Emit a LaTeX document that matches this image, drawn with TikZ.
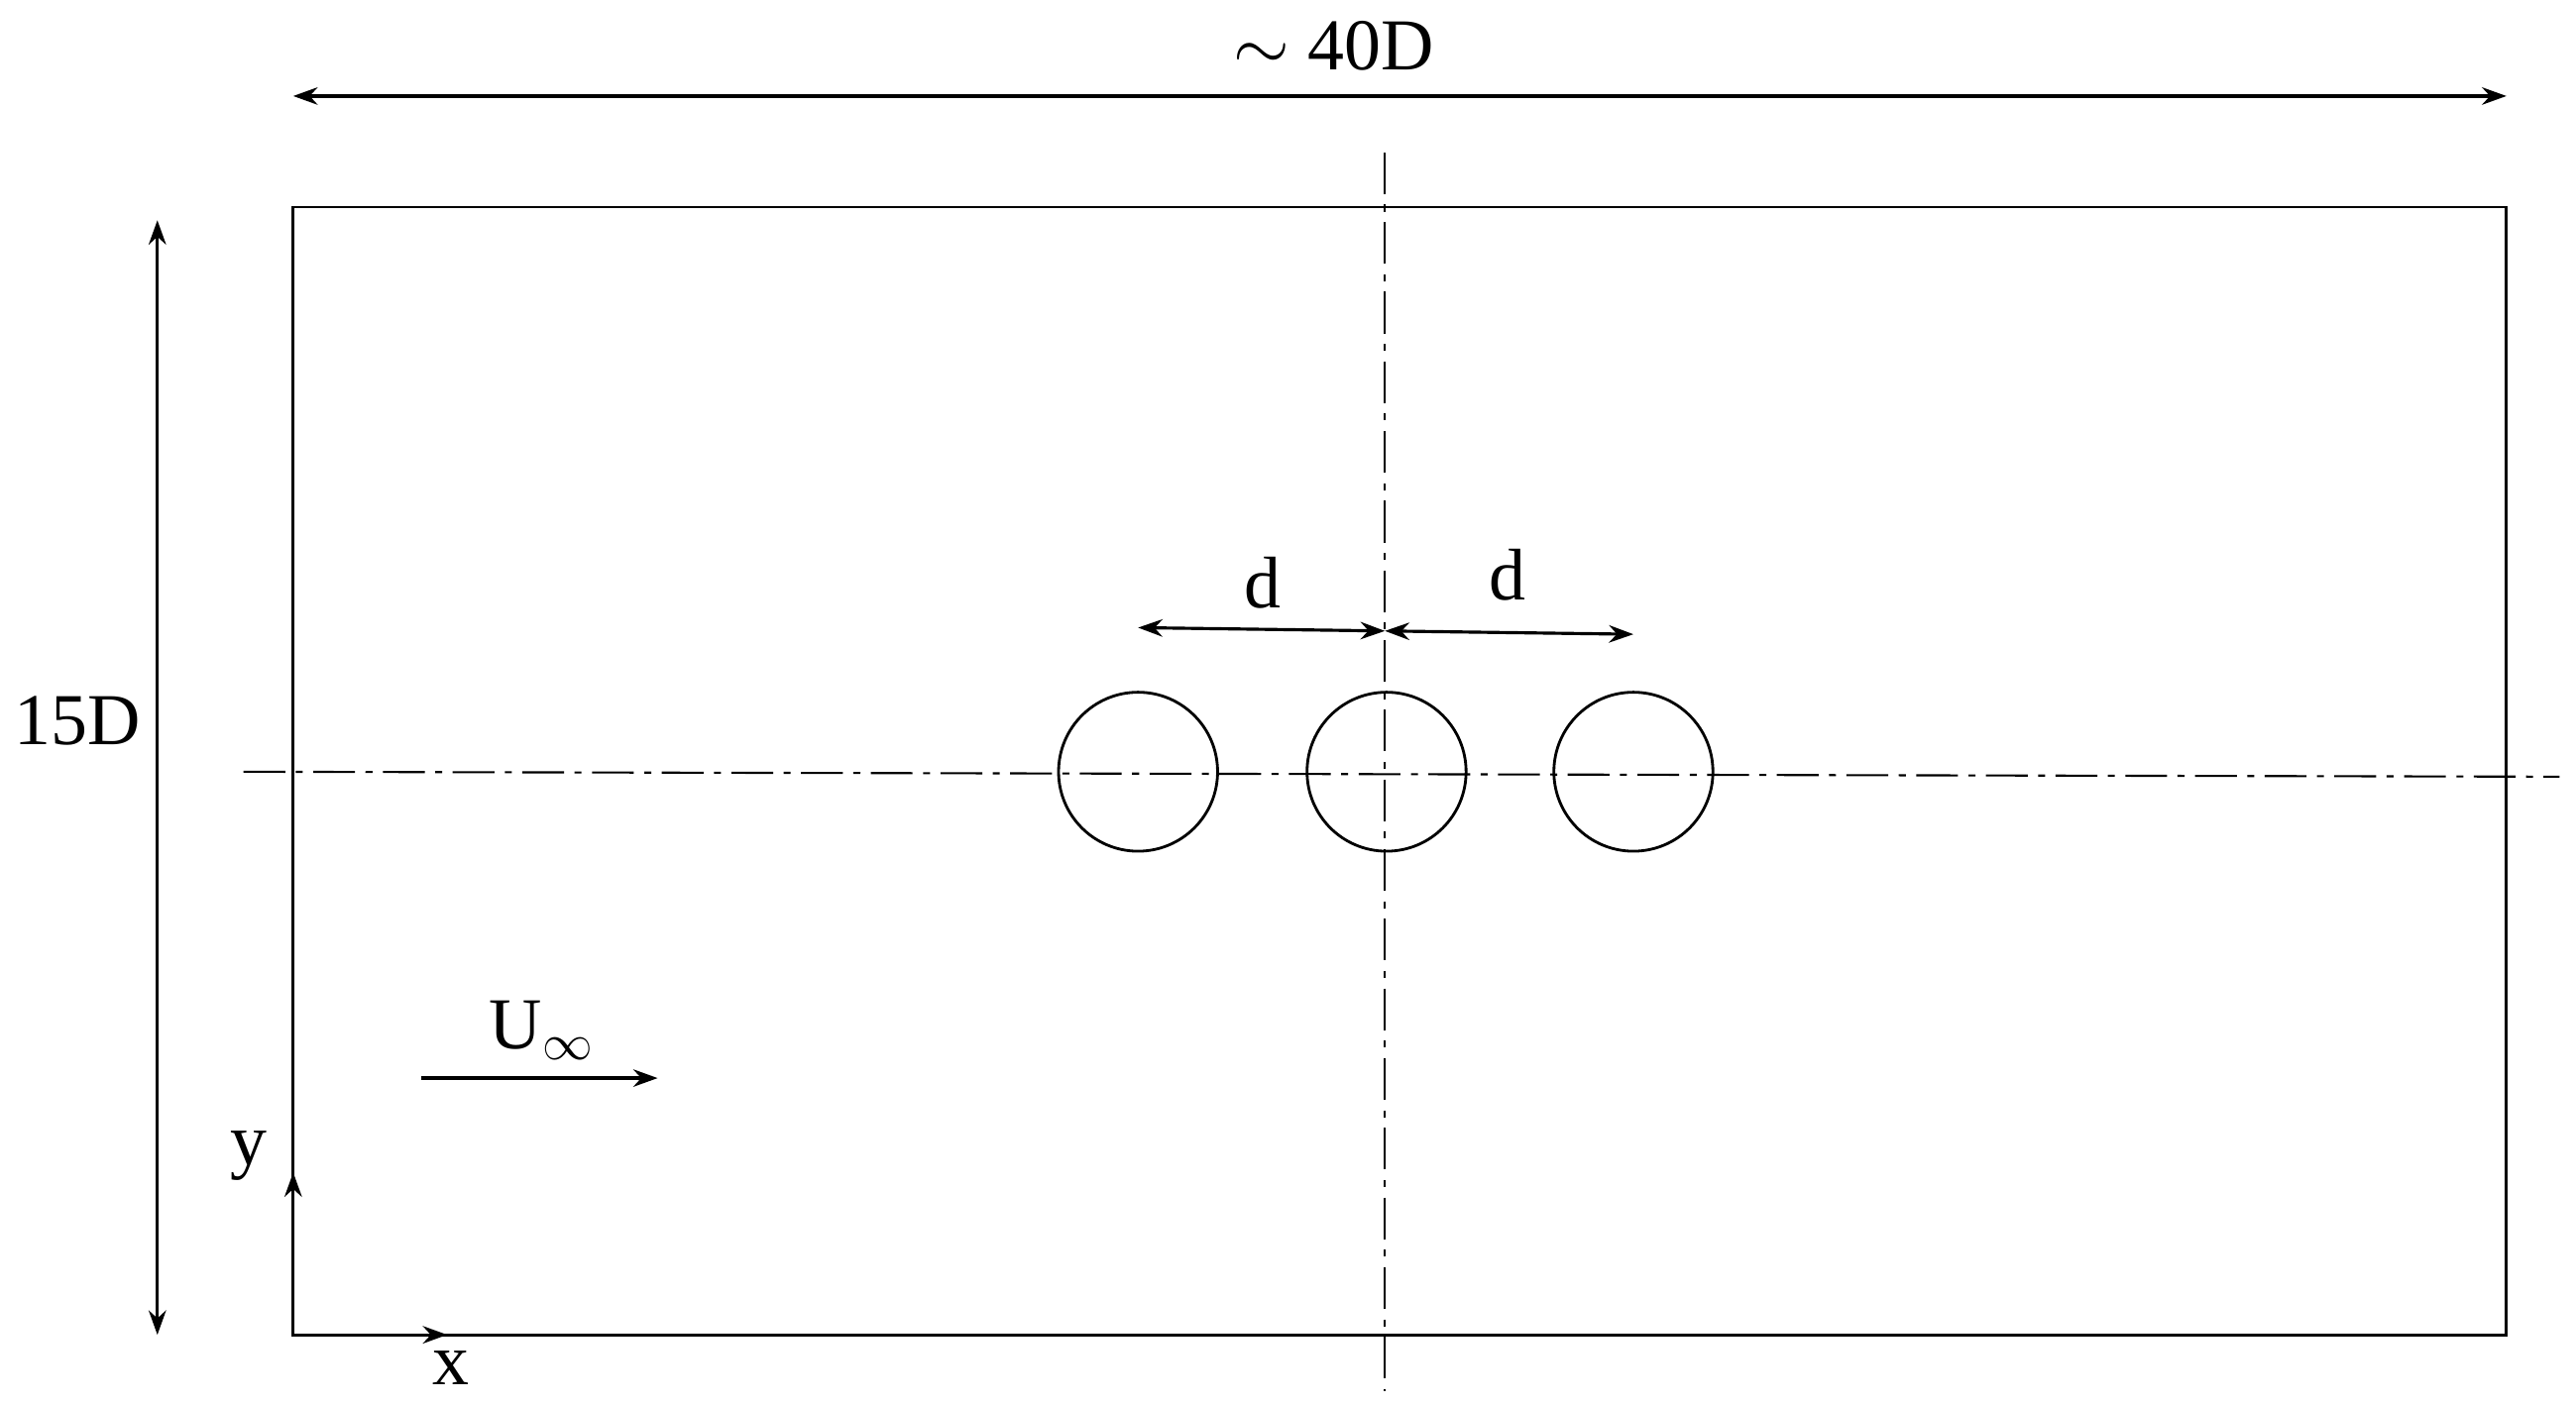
\documentclass[tikz,border=0pt]{standalone}
\usepackage{fontspec}
\setmainfont{Liberation Serif}
\usetikzlibrary{arrows.meta}
\begin{document}
\begin{tikzpicture}[x={(0.01671cm,0)},y={(0,-0.01671cm)},
  lbl/.style={font=\fontsize{21}{25}\selectfont, inner sep=0pt},
  dim/.style={line width=0.9pt,{Stealth[length=7pt,width=5pt]}-{Stealth[length=7pt,width=5pt]}},
  onearrow/.style={line width=0.9pt,-{Stealth[length=7pt,width=5pt]}},
  axisline/.style={line width=0.6pt, dash pattern=on 12pt off 3pt on 2pt off 3pt},
  cyl/.style={circle, draw, line width=0.8pt, minimum size=96*0.01671cm, inner sep=0pt}]
\useasboundingbox (0,0) rectangle (1555,848);
\draw[line width=0.8pt] (177,125) rectangle (1513,806);
% axes
\coordinate (hl) at (147,466); \coordinate (hr) at (1545,469);
\coordinate (vt) at (836,92); \coordinate (vb) at (836,840);
\draw[axisline] (hl) -- (hr);
\draw[axisline] (vt) -- (vb);
% cylinders
\node[cyl] (c1) at (687,466) {};
\node[cyl] (c2) at (837,466) {};
\node[cyl] (c3) at (986,466) {};
% dimension arrows
\coordinate (t1) at (177,58); \coordinate (t2) at (1513,58);
\draw[dim] (t1) -- (t2);
\node[lbl] (l40) at (805,28) {$\sim$ 40D};
\coordinate (s1) at (95,133); \coordinate (s2) at (95,806);
\draw[dim] (s1) -- (s2);
\node[lbl] (l15) at (47,435) {15D};
\coordinate (d1) at (687,379); \coordinate (d2) at (836,381); \coordinate (d3) at (986,383);
\draw[dim] (d1) -- (d2);
\draw[dim] (d2) -- (d3);
\node[lbl] (ld1) at (762,352) {d};
\node[lbl] (ld2) at (910,347) {d};
% flow
\coordinate (u1) at (254,651); \coordinate (u2) at (397,651);
\draw[onearrow] (u1) -- (u2);
\node[lbl] (lu) at (327,622) {U$_\infty$};
% coordinate axes
\coordinate (o) at (177,806); \coordinate (oy) at (177,708); \coordinate (ox) at (270,806);
\draw[onearrow] (o) -- (oy);
\draw[onearrow] (o) -- (ox);
\node[lbl] (ly) at (150,698) {y};
\node[lbl] (lx) at (272,826) {x};
\end{tikzpicture}
\end{document}
